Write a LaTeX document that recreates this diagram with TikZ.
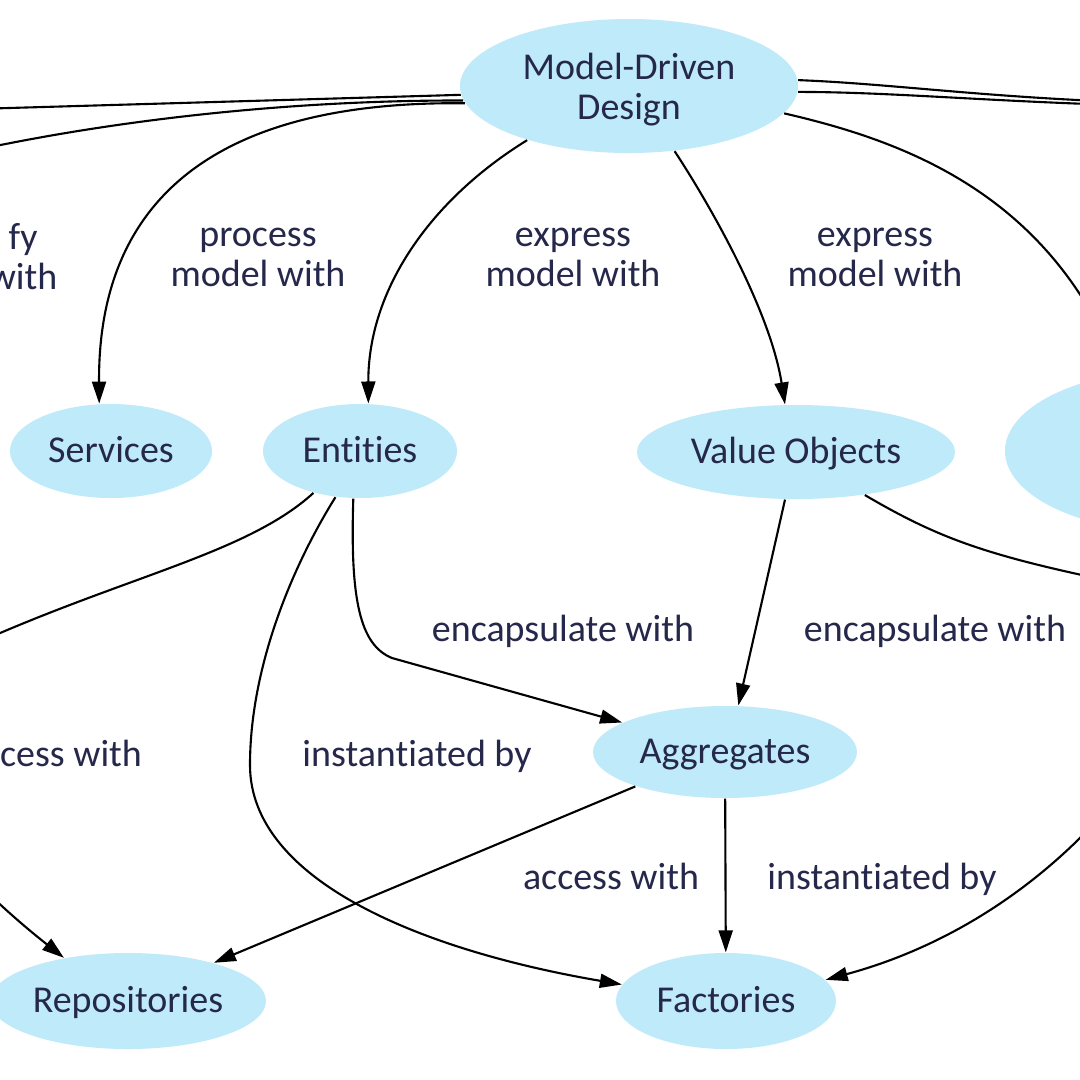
\documentclass[tikz,border=0pt]{standalone}
\usepackage{fontspec}
\setmainfont{Carlito}[Ligatures=NoCommon]
\usetikzlibrary{shapes.geometric,arrows.meta}
\definecolor{bubble}{HTML}{BEEAF9}
\definecolor{ink}{HTML}{25284A}

\begin{document}
\begin{tikzpicture}[x=0.1mm, y=-0.1mm,
    font=\fontsize{10.8}{11.4}\selectfont,
    concept/.style={ellipse, fill=bubble, text=ink, inner sep=0pt, align=center},
    oneline/.style={text height=0.64em, text depth=0pt},
    rel/.style={-{Triangle[length=2.2mm, width=1.4mm]}, line width=0.6pt},
    note/.style={text=ink, align=center, inner sep=0pt}]
    \path[use as bounding box, fill=white] (0,0) rectangle (1080,1080);
    \clip (0,0) rectangle (1080,1080);

    \node[concept, text depth=0pt, minimum width=33.8mm, minimum height=13.4mm] (A) at (629,86) {Model-Driven\\Design};
    \node[concept, oneline, minimum width=20.2mm, minimum height=9.4mm] (B) at (111,451) {Services};
    \node[concept, oneline, minimum width=19.4mm, minimum height=9.4mm] (C) at (360,451) {Entities};
    \node[concept, oneline, minimum width=31.8mm, minimum height=9.4mm] (D) at (796,452) {Value Objects};
    \node[concept, minimum width=34mm, minimum height=16.2mm] (E) at (1175,451) {};
    \node[concept, oneline, minimum width=26.4mm, minimum height=9.2mm] (F) at (725,752) {Aggregates};
    \node[concept, oneline, minimum width=27.6mm, minimum height=9.6mm] (G) at (128,1001) {Repositories};
    \node[concept, oneline, minimum width=22mm, minimum height=9.6mm] (H) at (726,1001) {Factories};

    \coordinate (P) at (-60,110);
    \coordinate (Q) at (-60,158);
    \coordinate (R) at (1200,104);
    \coordinate (S) at (1200,107);
    \coordinate (T) at (-80,670);
    \coordinate (U) at (1180,595);

    \node[note] (L1) at (23,257) {fy\\with};
    \node[note] (L2) at (258,257) {process\\model with};
    \node[note] (L3) at (573,257) {express\\model with};
    \node[note] (L4) at (875,257) {express\\model with};
    \node[note, oneline] (L5) at (563,630) {encapsulate with};
    \node[note, oneline] (L6) at (935,630) {encapsulate with};
    \node[note, oneline] (L7) at (71,755) {cess with};
    \node[note, oneline] (L8) at (417,755) {instantiated by};
    \node[note, oneline] (L9) at (611,878) {access with};
    \node[note, oneline] (L10) at (882,878) {instantiated by};

    \draw[rel] (A.183) -- (P);
    \draw[rel] (A.185) .. controls (300,100) and (120,118) .. (Q);
    \draw[rel] (A.186) .. controls (180,100) and (98,230) .. (B.104);
    \draw[rel] (A.208) .. controls (430,200) and (368,290) .. (C.80);
    \draw[rel] (A.305) .. controls (710,205) and (770,310) .. (D.103);
    \draw[rel] (A.350) .. controls (900,140) and (1040,190) .. (E.125);
    \draw[rel] (A.2) .. controls (900,84) and (1000,100) .. (R);
    \draw[rel] (A.358) .. controls (900,92) and (1000,103) .. (S);

    \draw[rel] (C.222) .. controls (240,560) and (100,580) .. (T) .. controls (-180,720) and (-60,860) .. (G.146);
    \draw[rel] (C.242) .. controls (290,570) and (250,670) .. (250,765) .. controls (250,880) and (420,950) .. (H.171);
    \draw[rel] (C.262) .. controls (350,600) and (360,645) .. (392,658) -- (F.164);
    \draw[rel] (D.257) -- (F.74);
    \draw[rel] (D.328) .. controls (950,545) and (1000,560) .. (U) .. controls (1250,616) and (1120,900) .. (H.12);
    \draw[rel] (F.201) -- (G.24);
    \draw[rel] (F) -- (H);
\end{tikzpicture}
\end{document}
